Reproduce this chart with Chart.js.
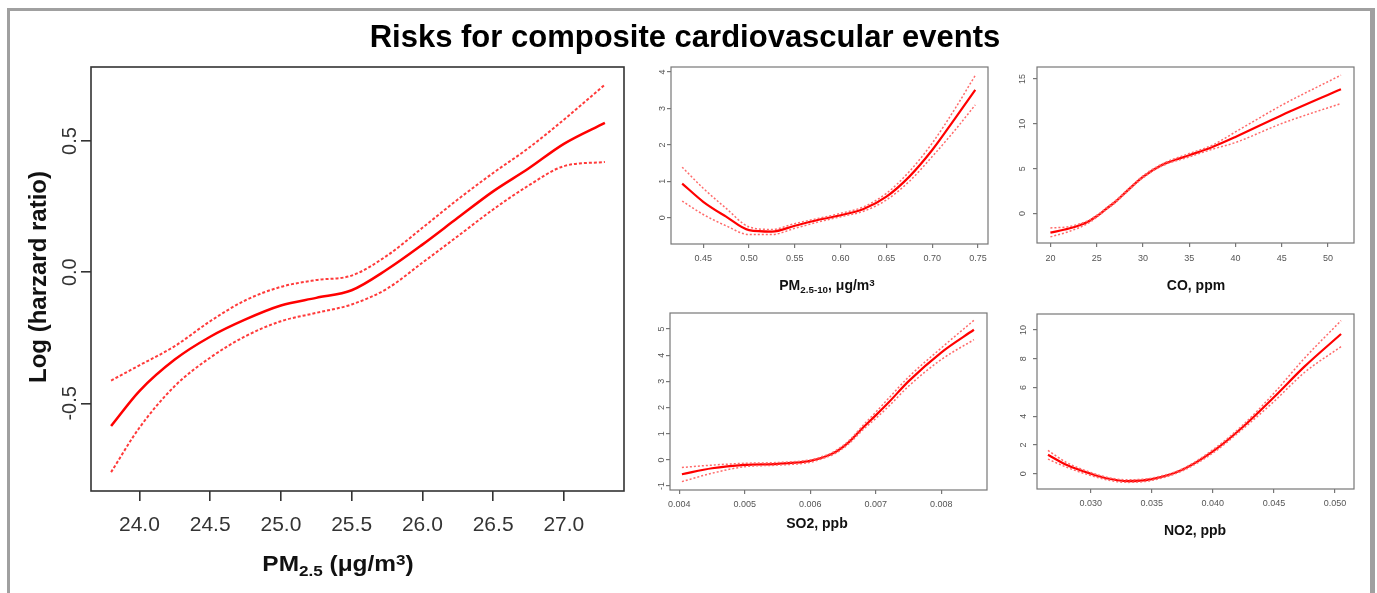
<!DOCTYPE html>
<html>
<head>
<meta charset="utf-8">
<title>Risks for composite cardiovascular events</title>
<script src="https://cdn.jsdelivr.net/npm/chart.js@4.4.1/dist/chart.umd.min.js"></script>
<style>
  body { margin: 0; background: #fff; font-family: 'Liberation Sans', Arial, sans-serif; }
  #page { position: relative; width: 1377px; height: 593px; overflow: hidden; }
  #frame { position: absolute; left: 7px; top: 8px; width: 1360px; height: 600px;
    border-left: 3px solid #a0a0a0; border-top: 3px solid #a0a0a0; border-right: 5px solid #a0a0a0; }
  canvas { position: absolute; }
  .lbl { position: absolute; white-space: nowrap; line-height: 1; font-weight: bold; color: #111; }
  .lbl .sb { font-size: 0.7em; position: relative; top: 0.3em; }
  .lbl .sp { font-size: 0.7em; position: relative; top: -0.4em; }
</style>
</head>
<body>
<div id="page">
  <div id="frame"></div>

  <canvas id="pm25" width="640" height="593" style="left:0;top:0"></canvas>
  <canvas id="pm10" width="370" height="250" style="left:640px;top:55px"></canvas>
  <canvas id="co" width="372" height="250" style="left:1005px;top:55px"></canvas>
  <canvas id="so2" width="370" height="250" style="left:640px;top:300px"></canvas>
  <canvas id="no2" width="372" height="250" style="left:1005px;top:300px"></canvas>

  <div class="lbl" style="left:685px;top:36px;font-size:31px;color:#000;transform:translate(-50%,-50%)">Risks for composite cardiovascular events</div>
  <div class="lbl" style="left:38px;top:277px;font-size:24px;transform:translate(-50%,-50%) rotate(-90deg)">Log (harzard ratio)</div>
  <div class="lbl" style="left:338px;top:564px;font-size:22px;transform:translate(-50%,-50%) scaleX(1.11)">PM<span class="sb">2.5</span> (μg/m<span class="sp">3</span>)</div>
  <div class="lbl" style="left:827px;top:285px;font-size:14px;transform:translate(-50%,-50%)">PM<span class="sb">2.5-10</span>, μg/m<span class="sp">3</span></div>
  <div class="lbl" style="left:1196px;top:285px;font-size:14px;transform:translate(-50%,-50%)">CO, ppm</div>
  <div class="lbl" style="left:817px;top:523px;font-size:14px;transform:translate(-50%,-50%)">SO2, ppb</div>
  <div class="lbl" style="left:1195px;top:530px;font-size:14px;transform:translate(-50%,-50%)">NO2, ppb</div>
</div>

<script>
'use strict';

// PM2.5 (big panel)
const pm25X = [23.8, 24.0, 24.25, 24.5, 24.75, 25.0, 25.25, 25.5, 25.75, 26.0, 26.25, 26.5, 26.75, 27.0, 27.29];
const pm25Fit = [-0.586, -0.453, -0.333, -0.246, -0.180, -0.127, -0.098, -0.069, 0.01, 0.105, 0.207, 0.308, 0.395, 0.489, 0.569];
const pm25Upper = [-0.413, -0.355, -0.282, -0.187, -0.107, -0.056, -0.030, -0.013, 0.063, 0.169, 0.277, 0.378, 0.473, 0.581, 0.715];
const pm25Lower = [-0.762, -0.593, -0.434, -0.326, -0.244, -0.187, -0.155, -0.123, -0.063, 0.036, 0.137, 0.239, 0.330, 0.404, 0.420];
const pm25XTicks = [24.0, 24.5, 25.0, 25.5, 26.0, 26.5, 27.0];
const pm25YTicks = [-0.5, 0.0, 0.5];

// PM2.5-10
const pm10X = [0.427, 0.45, 0.475, 0.50, 0.525, 0.55, 0.575, 0.60, 0.625, 0.65, 0.675, 0.70, 0.725, 0.747];
const pm10Fit = [0.94, 0.44, 0.03, -0.34, -0.38, -0.22, -0.06, 0.07, 0.24, 0.58, 1.13, 1.86, 2.73, 3.51];
const pm10Upper = [1.39, 0.81, 0.26, -0.25, -0.32, -0.16, -0.02, 0.12, 0.30, 0.67, 1.27, 2.05, 3.0, 3.91];
const pm10Lower = [0.46, 0.09, -0.22, -0.46, -0.46, -0.29, -0.12, 0.03, 0.18, 0.49, 1.0, 1.68, 2.41, 3.10];
const pm10XTicks = [0.45, 0.50, 0.55, 0.60, 0.65, 0.70, 0.75];
const pm10YTicks = [0, 1, 2, 3, 4];

// CO
const coX = [20, 22, 24, 25, 26, 27, 28, 30, 32, 35, 37.5, 40, 45, 51.4];
const coFit = [-2.12, -1.67, -0.93, -0.3, 0.5, 1.3, 2.25, 4.09, 5.39, 6.5, 7.43, 8.55, 10.97, 13.87];
const coUpper = [-1.6, -1.45, -0.82, -0.2, 0.6, 1.4, 2.35, 4.2, 5.5, 6.69, 7.62, 9.1, 12.08, 15.43];
const coLower = [-2.6, -2.0, -1.12, -0.4, 0.4, 1.2, 2.15, 3.98, 5.28, 6.32, 7.17, 7.92, 10.04, 12.27];
const coXTicks = [20, 25, 30, 35, 40, 45, 50];
const coYTicks = [0, 5, 10, 15];

// SO2
const so2X = [0.00404, 0.0045, 0.005, 0.0055, 0.006, 0.0062, 0.0064, 0.0066, 0.0068, 0.007, 0.0072, 0.0075, 0.008, 0.0085];
const so2Fit = [-0.55, -0.32, -0.19, -0.15, -0.04, 0.10, 0.32, 0.70, 1.22, 1.70, 2.2, 3.0, 4.1, 4.97];
const so2Upper = [-0.29, -0.2, -0.13, -0.1, 0.0, 0.14, 0.37, 0.76, 1.30, 1.82, 2.36, 3.16, 4.27, 5.33];
const so2Lower = [-0.83, -0.51, -0.26, -0.2, -0.09, 0.06, 0.27, 0.64, 1.14, 1.58, 2.05, 2.81, 3.83, 4.59];
const so2XTicks = [0.004, 0.005, 0.006, 0.007, 0.008];
const so2YTicks = [-1, 0, 1, 2, 3, 4, 5];

// NO2
const no2X = [0.0265, 0.028, 0.030, 0.0315, 0.033, 0.035, 0.0375, 0.040, 0.0425, 0.045, 0.0475, 0.0505];
const no2Fit = [1.32, 0.62, 0.0, -0.35, -0.51, -0.37, 0.28, 1.55, 3.29, 5.32, 7.45, 9.72];
const no2Upper = [1.62, 0.79, 0.09, -0.28, -0.42, -0.3, 0.34, 1.67, 3.42, 5.6, 8.03, 10.65];
const no2Lower = [1.02, 0.46, -0.12, -0.45, -0.6, -0.46, 0.2, 1.44, 3.15, 5.02, 7.04, 8.84];
const no2XTicks = [0.030, 0.035, 0.040, 0.045, 0.050];
const no2YTicks = [0, 2, 4, 6, 8, 10];

const fontFamily = "'Liberation Sans', Arial, sans-serif";

// box around the plot region, like R's box()
function boxPlugin(color, width) {
  return {
    id: 'rbox',
    afterDatasetsDraw(chart) {
      const a = chart.chartArea;
      const c = chart.ctx;
      c.save();
      c.strokeStyle = color;
      c.lineWidth = width;
      c.strokeRect(a.left, a.top, a.right - a.left, a.bottom - a.top);
      c.restore();
    }
  };
}

function curve(xs, ys, color, width, dash) {
  return {
    data: xs.map((x, i) => ({ x: x, y: ys[i] })),
    borderColor: color,
    borderWidth: width,
    borderDash: dash,
    pointRadius: 0,
    fill: false,
    cubicInterpolationMode: 'monotone'
  };
}

function drawPanel(id, xs, fit, upper, lower, s) {
  const grid = {
    drawOnChartArea: false,
    drawTicks: true,
    tickLength: s.tick,
    color: s.boxColor,
    lineWidth: s.boxWidth
  };
  new Chart(document.getElementById(id), {
    type: 'line',
    data: {
      datasets: [
        curve(xs, upper, s.dashColor, s.dashWidth, s.dash),
        curve(xs, lower, s.dashColor, s.dashWidth, s.dash),
        curve(xs, fit, '#ff0000', s.lineWidth, [])
      ]
    },
    options: {
      responsive: false,
      animation: false,
      layout: { padding: s.pad },
      plugins: { legend: { display: false }, tooltip: { enabled: false } },
      scales: {
        x: {
          type: 'linear',
          min: s.xMin,
          max: s.xMax,
          afterBuildTicks: sc => { sc.ticks = s.xTicks.map(v => ({ value: v })); },
          afterFit: sc => { sc.height = s.xh; },
          ticks: {
            autoSkip: false,
            minRotation: 0,
            maxRotation: 0,
            padding: s.xPad,
            color: s.tickColor,
            font: { family: fontFamily, size: s.font },
            callback: v => v.toFixed(s.xDec)
          },
          grid: grid,
          border: { display: false }
        },
        y: {
          type: 'linear',
          min: s.yMin,
          max: s.yMax,
          afterBuildTicks: sc => { sc.ticks = s.yTicks.map(v => ({ value: v })); },
          afterFit: sc => { sc.width = s.yw; },
          ticks: {
            autoSkip: false,
            minRotation: 90,
            maxRotation: 90,
            crossAlign: 'center',
            padding: s.yPad,
            color: s.tickColor,
            font: { family: fontFamily, size: s.yFont || s.font },
            callback: v => v.toFixed(s.yDec)
          },
          grid: grid,
          border: { display: false }
        }
      }
    },
    plugins: [boxPlugin(s.boxColor, s.boxWidth)]
  });
}

const small = {
  font: 9, tick: 4, tickColor: '#555', boxColor: '#777', boxWidth: 1.2,
  lineWidth: 2.2, dashColor: '#ff6a6a', dashWidth: 1.5, dash: [2, 2], xh: 30, xPad: 5
};

drawPanel('pm25', pm25X, pm25Fit, pm25Upper, pm25Lower, {
  font: 21, yFont: 20, tick: 10, tickColor: '#333', boxColor: '#333', boxWidth: 1.6,
  lineWidth: 2.5, dashColor: '#ff3a3a', dashWidth: 2, dash: [3, 2],
  xMin: 23.658, xMax: 27.425, yMin: -0.834, yMax: 0.782,
  xTicks: pm25XTicks, yTicks: pm25YTicks, xDec: 1, yDec: 1,
  pad: { left: 0, top: 67, right: 16, bottom: 42 }, xh: 60, yw: 91, xPad: 12, yPad: -6.7
});

drawPanel('pm10', pm10X, pm10Fit, pm10Upper, pm10Lower, Object.assign({}, small, {
  xMin: 0.4148, xMax: 0.7609, yMin: -0.72, yMax: 4.14,
  xTicks: pm10XTicks, yTicks: pm10YTicks, xDec: 2, yDec: 0,
  pad: { left: 0, top: 12, right: 22, bottom: 31 }, yw: 31, yPad: 1.8
}));

drawPanel('co', coX, coFit, coUpper, coLower, Object.assign({}, small, {
  xMin: 18.55, xMax: 52.81, yMin: -3.28, yMax: 16.34,
  xTicks: coXTicks, yTicks: coYTicks, xDec: 0, yDec: 0,
  pad: { left: 0, top: 12, right: 23, bottom: 32 }, yw: 32, yPad: 5, xPad: 6
}));

drawPanel('so2', so2X, so2Fit, so2Upper, so2Lower, Object.assign({}, small, {
  xMin: 0.003858, xMax: 0.0087, yMin: -1.15, yMax: 5.61,
  xTicks: so2XTicks, yTicks: so2YTicks, xDec: 3, yDec: 0,
  pad: { left: 0, top: 13, right: 23, bottom: 30 }, yw: 30, yPad: 0.3
}));

drawPanel('no2', no2X, no2Fit, no2Upper, no2Lower, Object.assign({}, small, {
  xMin: 0.0256, xMax: 0.05156, yMin: -1.06, yMax: 11.11,
  xTicks: no2XTicks, yTicks: no2YTicks, xDec: 3, yDec: 0,
  pad: { left: 0, top: 14, right: 23, bottom: 31 }, yw: 32, yPad: 4.3
}));
</script>
</body>
</html>
